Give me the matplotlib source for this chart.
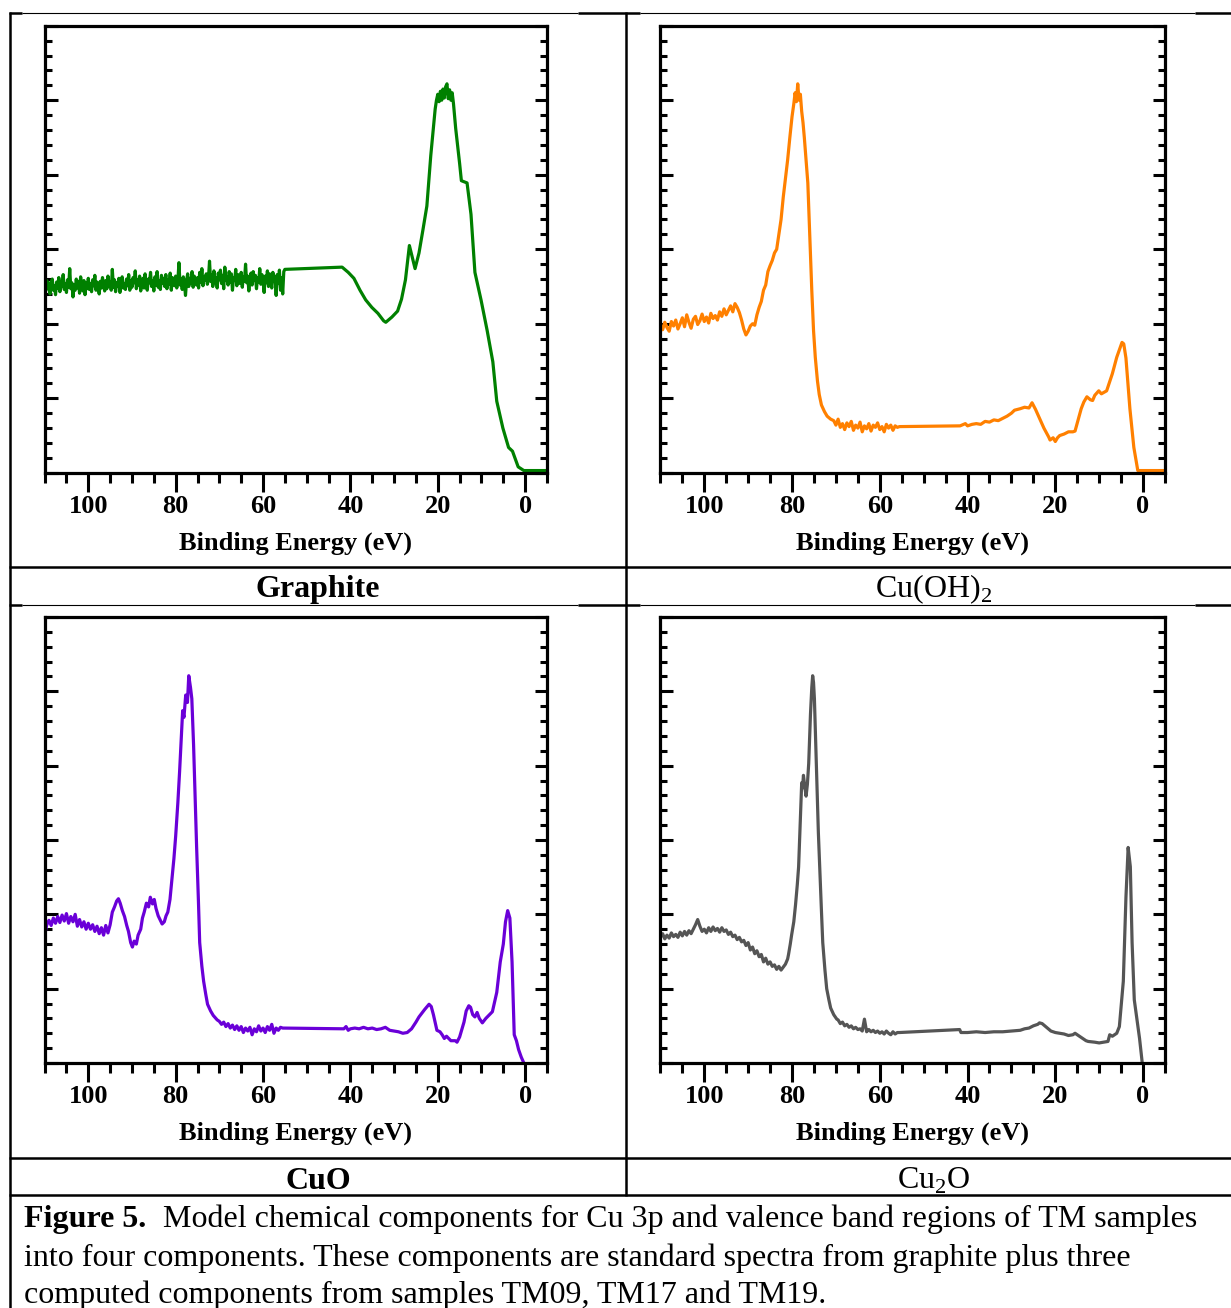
import numpy as np
import matplotlib
matplotlib.use("Agg")
import matplotlib.pyplot as plt
from matplotlib.ticker import MultipleLocator

plt.rcParams['font.family'] = ['Liberation Serif', 'DejaVu Serif']
plt.rcParams['mathtext.fontset'] = 'custom'
plt.rcParams['mathtext.rm'] = 'Liberation Serif'

# ---------------- data ----------------
# Graphite
gr_noise_x = np.arange(110, 55.1, -0.25)
gr_noise_y = [2.52, 2.44, 2.58, 2.47, 2.55, 2.40, 2.53, 2.60, 2.45, 2.51,
              2.39, 2.56, 2.48, 2.62, 2.43, 2.57, 2.50, 2.66, 2.46, 2.54,
              2.42, 2.59, 2.49, 2.74, 2.47, 2.55, 2.36, 2.52, 2.45, 2.60,
              2.48, 2.57, 2.41, 2.63, 2.50, 2.44, 2.58, 2.39, 2.55, 2.47,
              2.61, 2.46, 2.54, 2.43, 2.59, 2.51, 2.65, 2.45, 2.56, 2.49,
              2.40, 2.57, 2.48, 2.62, 2.52, 2.44, 2.58, 2.47, 2.64, 2.50,
              2.56, 2.45, 2.73, 2.49, 2.59, 2.43, 2.55, 2.50, 2.61, 2.42,
              2.57, 2.63, 2.48, 2.54, 2.46, 2.60, 2.51, 2.66, 2.45, 2.58,
              2.49, 2.62, 2.55, 2.71, 2.47, 2.59, 2.52, 2.64, 2.44, 2.57,
              2.61, 2.48, 2.67, 2.53, 2.45, 2.60, 2.55, 2.69, 2.50, 2.58,
              2.44, 2.63, 2.52, 2.70, 2.49, 2.58, 2.46, 2.65, 2.54, 2.61,
              2.50, 2.66, 2.47, 2.59, 2.53, 2.68, 2.45, 2.62, 2.56, 2.51,
              2.64, 2.48, 2.57, 2.82, 2.52, 2.60, 2.46, 2.63, 2.55, 2.38,
              2.58, 2.67, 2.50, 2.61, 2.54, 2.70, 2.49, 2.64, 2.57, 2.52,
              2.62, 2.48, 2.69, 2.56, 2.74, 2.51, 2.63, 2.58, 2.67, 2.53,
              2.60, 2.84, 2.57, 2.66, 2.50, 2.71, 2.55, 2.62, 2.48, 2.68,
              2.59, 2.72, 2.54, 2.65, 2.47, 2.76, 2.58, 2.63, 2.52, 2.70,
              2.56, 2.67, 2.45, 2.62, 2.58, 2.73, 2.51, 2.66, 2.60, 2.54,
              2.69, 2.49, 2.63, 2.57, 2.80, 2.55, 2.64, 2.44, 2.61, 2.68,
              2.52, 2.70, 2.58, 2.65, 2.47, 2.62, 2.56, 2.74, 2.53, 2.66,
              2.60, 2.42, 2.64, 2.55, 2.71, 2.50, 2.67, 2.58, 2.48, 2.69,
              2.57, 2.63, 2.38, 2.66, 2.54, 2.72, 2.45, 2.62, 2.40, 2.70]
gr_x = [55.0, 41.9, 40.5, 39.2, 37.8, 36.5, 35.1, 33.7, 32.4, 31.9, 30.5, 29.2,
        28.3, 27.4, 26.5, 25.2, 24.3, 23.4, 22.5, 21.6, 20.6, 20.3, 20.0, 19.7,
        19.4, 19.1, 18.8, 18.5, 18.2, 17.9, 17.6, 17.3, 17.0, 16.7, 16.4, 15.9,
        15.0, 14.6, 13.3, 12.4, 11.5, 10.1, 8.7, 7.4, 6.5, 5.1, 3.8, 2.9, 1.6,
        0.3, -5.0]
gr_y = [2.73, 2.76, 2.69, 2.61, 2.45, 2.32, 2.22, 2.14, 2.04, 2.02, 2.09, 2.17,
        2.33, 2.59, 3.05, 2.74, 2.95, 3.26, 3.58, 4.26, 4.88, 5.00, 5.08, 4.98,
        5.12, 5.00, 5.15, 5.03, 5.18, 5.22, 5.02, 5.14, 5.00, 5.10, 4.95, 4.62,
        4.15, 3.92, 3.89, 3.47, 2.69, 2.32, 1.91, 1.49, 0.96, 0.60, 0.34, 0.29,
        0.08, 0.03, 0.03]

# Cu(OH)2
oh_noise1_x = np.arange(110, 90.4, -0.5)
oh_noise1_y = [1.98, 1.92, 2.02, 1.95, 1.90, 2.03, 1.97, 2.05, 1.93, 2.00,
               2.08, 1.96, 2.12, 2.02, 1.94, 2.06, 2.10, 1.99, 2.04, 2.13,
               2.03, 2.09, 2.01, 2.14, 2.07, 2.11, 2.05, 2.16, 2.10, 2.20,
               2.12, 2.18, 2.24, 2.16, 2.27, 2.22, 2.15, 2.05, 1.93, 1.85]
oh_peak_x = [90.0, 89.5, 89.0, 88.5, 88.0, 87.5, 87.0, 86.5, 86.0, 85.5, 85.0,
             84.5, 84.0, 83.5, 83.0, 82.5, 82.0, 81.5, 81.0, 80.5, 80.0, 79.6,
             79.3, 79.0, 78.7, 78.4, 78.1, 77.8, 77.5, 77.2, 76.8, 76.4, 76.1,
             75.8, 75.5, 75.1, 74.7, 74.2, 73.8, 73.3, 72.6, 72.0, 71.2]
oh_peak_y = [1.90, 1.97, 2.00, 1.98, 2.12, 2.22, 2.30, 2.45, 2.52, 2.70, 2.78,
             2.85, 2.95, 3.00, 3.20, 3.40, 3.70, 3.95, 4.20, 4.50, 4.78, 4.95,
             5.10, 4.98, 5.22, 5.00, 5.08, 4.85, 4.70, 4.50, 4.20, 3.89, 3.40,
             2.95, 2.45, 1.91, 1.55, 1.23, 1.05, 0.91, 0.82, 0.76, 0.72]
oh_noise2_x = np.arange(70.5, 55.9, -0.5)
oh_noise2_y = [0.70, 0.64, 0.72, 0.61, 0.66, 0.58, 0.67, 0.62, 0.69, 0.57,
               0.64, 0.60, 0.68, 0.55, 0.63, 0.59, 0.66, 0.56, 0.64, 0.61,
               0.67, 0.58, 0.62, 0.55, 0.65, 0.60, 0.64, 0.57, 0.63, 0.61]
oh_x = [55.5, 41.7, 40.5, 40.0, 39.0, 38.0, 37.0, 36.0, 35.0, 34.0, 33.0, 32.0,
        31.0, 30.0, 29.3, 28.0, 27.0, 26.0, 25.3, 24.5, 23.5, 22.6, 21.5, 21.2,
        20.5, 20.0, 19.5, 19.0, 18.0, 17.0, 16.0, 15.5, 14.1, 13.5, 12.8, 12.0,
        11.5, 11.0, 10.1, 9.5, 8.3, 7.0, 6.0, 4.8, 4.4, 3.9, 3.0, 2.1, 1.2, -5.0]
oh_y = [0.62, 0.63, 0.66, 0.63, 0.65, 0.66, 0.65, 0.69, 0.68, 0.71, 0.70, 0.73,
        0.76, 0.80, 0.84, 0.86, 0.88, 0.87, 0.94, 0.85, 0.72, 0.60, 0.48, 0.44,
        0.47, 0.42, 0.47, 0.50, 0.52, 0.55, 0.55, 0.56, 0.86, 0.95, 1.02, 0.98,
        0.97, 1.04, 1.10, 1.06, 1.10, 1.33, 1.55, 1.75, 1.73, 1.54, 0.86, 0.34,
        0.03, 0.03]

# CuO
cuo_noise1_x = np.arange(110, 94.9, -0.5)
cuo_noise1_y = [1.72, 1.86, 1.92, 1.85, 1.95, 1.88, 1.97, 1.89, 1.99, 1.91,
                2.01, 1.88, 1.97, 1.90, 2.00, 1.84, 1.93, 1.83, 1.90, 1.80,
                1.88, 1.80, 1.86, 1.77, 1.84, 1.74, 1.82, 1.72, 1.85, 1.75,
                1.86]
cuo_peak_x = [94.5, 94.0, 93.5, 93.1, 92.7, 92.2, 91.7, 91.2, 90.8, 90.3, 89.9,
              89.5, 89.0, 88.6, 88.0, 87.6, 87.2, 86.7, 86.2, 85.8, 85.3, 84.9,
              84.5, 84.0, 83.5, 83.1, 82.6, 82.2, 81.8, 81.3, 80.9, 80.4, 80.0,
              79.5, 79.1, 78.7, 78.4, 78.1, 77.7, 77.3, 77.0, 76.6, 76.3, 75.9,
              75.5, 75.2, 74.8, 74.5, 74.0, 73.6, 73.1, 72.7, 72.0, 71.4, 70.5]
cuo_peak_y = [2.03, 2.10, 2.18, 2.21, 2.15, 2.05, 1.97, 1.85, 1.77, 1.62, 1.56,
              1.64, 1.60, 1.72, 1.80, 1.95, 2.03, 2.15, 2.10, 2.23, 2.14, 2.20,
              2.08, 1.98, 1.92, 1.87, 1.90, 1.98, 2.03, 2.20, 2.44, 2.75, 3.05,
              3.50, 3.92, 4.40, 4.74, 4.65, 4.95, 4.85, 5.21, 5.05, 4.90, 4.28,
              3.50, 2.90, 2.20, 1.62, 1.30, 1.10, 0.92, 0.79, 0.70, 0.64, 0.58]
cuo_noise2_x = np.arange(70, 55.9, -0.5)
cuo_noise2_y = [0.56, 0.52, 0.55, 0.49, 0.53, 0.47, 0.51, 0.45, 0.50, 0.44,
                0.49, 0.41, 0.47, 0.43, 0.48, 0.38, 0.46, 0.42, 0.50, 0.43,
                0.47, 0.41, 0.49, 0.44, 0.52, 0.40, 0.47, 0.44, 0.48]
cuo_x = [55.5, 41.5, 41.0, 40.5, 40.0, 39.0, 38.0, 37.0, 36.0, 35.0, 34.0, 33.0,
         32.0, 31.0, 30.0, 29.0, 28.0, 27.0, 26.0, 25.0, 24.3, 23.0, 22.0, 21.5,
         21.0, 20.2, 19.5, 19.0, 18.5, 18.0, 17.0, 16.0, 15.6, 15.0, 14.0, 13.5,
         12.9, 12.5, 12.0, 11.5, 11.0, 10.5, 9.8, 9.0, 8.0, 7.5, 6.5, 5.7, 5.0,
         4.5, 4.0, 3.5, 3.0, 2.5, 2.0, 1.5, 0.9, 0.3]
cuo_y = [0.47, 0.46, 0.49, 0.44, 0.46, 0.47, 0.46, 0.48, 0.46, 0.47, 0.45, 0.46,
         0.48, 0.44, 0.43, 0.42, 0.40, 0.41, 0.46, 0.55, 0.62, 0.72, 0.79, 0.76,
         0.65, 0.44, 0.42, 0.38, 0.33, 0.36, 0.30, 0.30, 0.28, 0.35, 0.55, 0.70,
         0.77, 0.75, 0.65, 0.62, 0.68, 0.60, 0.54, 0.60, 0.66, 0.69, 0.95, 1.36,
         1.60, 1.90, 2.05, 1.95, 1.36, 0.38, 0.30, 0.18, 0.08, 0.00]

# Cu2O
c2o_noise1_x = np.arange(110, 81.9, -0.5)
c2o_noise1_y = [1.69, 1.74, 1.67, 1.72, 1.68, 1.75, 1.70, 1.73, 1.69, 1.76,
                1.71, 1.77, 1.72, 1.78, 1.74, 1.80, 1.86, 1.93, 1.84, 1.77,
                1.80, 1.75, 1.82, 1.77, 1.83, 1.78, 1.81, 1.76, 1.82, 1.77,
                1.79, 1.73, 1.76, 1.70, 1.72, 1.66, 1.69, 1.63, 1.65, 1.58,
                1.62, 1.52, 1.56, 1.47, 1.51, 1.43, 1.46, 1.36, 1.41, 1.33,
                1.36, 1.30, 1.32, 1.26, 1.30, 1.25, 1.29]
c2o_peak_x = [81.5, 81.0, 80.8, 80.4, 80.1, 79.6, 79.2, 78.8, 78.5, 78.1, 77.8,
              77.6, 77.4, 77.1, 76.8, 76.5, 76.2, 75.8, 75.5, 75.3, 75.1, 74.9,
              74.6, 74.3, 74.0, 73.7, 73.3, 73.0, 72.5, 72.1, 71.6, 71.2, 70.5,
              69.8]
c2o_peak_y = [1.33, 1.40, 1.46, 1.60, 1.72, 1.90, 2.13, 2.40, 2.64, 3.30, 3.77,
              3.70, 3.87, 3.72, 3.59, 3.75, 4.03, 4.69, 5.05, 5.21, 5.12, 4.90,
              4.30, 3.67, 3.10, 2.64, 2.05, 1.62, 1.25, 1.00, 0.85, 0.74, 0.65,
              0.59]
c2o_noise2_x = np.arange(69.5, 55.9, -0.5)
c2o_noise2_y = [0.58, 0.53, 0.55, 0.50, 0.52, 0.48, 0.50, 0.46, 0.48, 0.45,
                0.46, 0.43, 0.59, 0.42, 0.45, 0.42, 0.44, 0.41, 0.43, 0.40,
                0.42, 0.39, 0.43, 0.40, 0.38, 0.42, 0.39, 0.41]
c2o_x = [55.5, 41.8, 41.5, 40.0, 38.0, 36.0, 34.0, 32.0, 30.0, 28.0, 27.0, 26.0,
         25.0, 24.0, 23.6, 23.0, 22.0, 21.0, 20.0, 19.0, 18.0, 17.0, 16.0, 15.5,
         15.0, 14.0, 13.0, 12.5, 11.0, 10.0, 9.0, 8.0, 7.6, 7.0, 6.0, 5.4, 4.5,
         3.9, 3.4, 2.9, 2.5, 2.0, 1.4, 0.8, 0.24]
c2o_y = [0.41, 0.45, 0.41, 0.41, 0.42, 0.41, 0.42, 0.42, 0.43, 0.44, 0.46, 0.47,
         0.50, 0.52, 0.54, 0.53, 0.48, 0.43, 0.41, 0.40, 0.39, 0.37, 0.38, 0.40,
         0.38, 0.34, 0.30, 0.29, 0.28, 0.27, 0.28, 0.29, 0.38, 0.36, 0.40, 0.49,
         1.10, 2.23, 2.90, 2.64, 1.62, 0.85, 0.59, 0.33, 0.03]

series = [
    (np.concatenate([gr_noise_x, gr_x]), np.concatenate([gr_noise_y, gr_y]), '#008000'),
    (np.concatenate([oh_noise1_x, oh_peak_x, oh_noise2_x, oh_x]),
     np.concatenate([oh_noise1_y, oh_peak_y, oh_noise2_y, oh_y]), '#FF8000'),
    (np.concatenate([cuo_noise1_x, cuo_peak_x, cuo_noise2_x, cuo_x]),
     np.concatenate([cuo_noise1_y, cuo_peak_y, cuo_noise2_y, cuo_y]), '#6A00D8'),
    (np.concatenate([c2o_noise1_x, c2o_peak_x, c2o_noise2_x, c2o_x]),
     np.concatenate([c2o_noise1_y, c2o_peak_y, c2o_noise2_y, c2o_y]), '#555555'),
]
cell_labels = ['Graphite', 'Cu(OH)$_\\mathregular{2}$', 'CuO', 'Cu$_\\mathregular{2}$O']
label_bold = [True, False, True, False]
x_label = 'Binding Energy (eV)'
caption_bold = 'Figure 5.'
caption_lines = ['Model chemical components for Cu 3p and valence band regions of TM samples',
                 'into four components. These components are standard spectra from graphite plus three',
                 'computed components from samples TM09, TM17 and TM19.']

# ---------------- layout ----------------
W, H = 1231, 1308
fig = plt.figure(figsize=(W / 100, H / 100), dpi=100)
fig.patch.set_facecolor('white')

bg = fig.add_axes([0, 0, 1, 1])
bg.set_xlim(0, W)
bg.set_ylim(H, 0)
bg.axis('off')

THICK, THIN = 1.8, 0.8
# horizontal table lines
for yy in (12.5, 605):
    for (a, b, lw) in [(9, 22, THICK), (22, 578, THIN), (578, 640, THICK),
                       (640, 1195, THIN), (1195, 1231, THICK)]:
        bg.plot([a, b], [yy, yy], color='black', lw=lw, solid_capstyle='butt')
for yy in (567, 1157.5, 1194.5):
    bg.plot([9, 1231], [yy, yy], color='black', lw=THICK, solid_capstyle='butt')
bg.plot([9.5, 9.5], [11.5, H], color='black', lw=THICK, solid_capstyle='butt')
bg.plot([626, 626], [11.5, 1195.5], color='black', lw=THICK, solid_capstyle='butt')

boxes = [(44.6, 25.7, 547, 472.8), (660.4, 25.7, 1165, 472.8),
         (44.6, 617, 547, 1063), (660.4, 617, 1165, 1063)]
label_pos = [(318, 597), (934, 597), (318, 1189), (934, 1189)]
XLABEL_OFFSET = 76.5  # pixels from bottom spine to x-label baseline

for (x, y, col), (l, t, r, b), lab, bold, (lx, ly) in zip(series, boxes, cell_labels,
                                                          label_bold, label_pos):
    ax = fig.add_axes([l / W, 1 - b / H, (r - l) / W, (b - t) / H])
    ax.plot(x, y, color=col, lw=2.3, solid_joinstyle='round')
    ax.set_xlim(110, -5)
    ax.set_ylim(0, 6)
    for s in ax.spines.values():
        s.set_linewidth(2.3)
    ax.xaxis.set_major_locator(MultipleLocator(20))
    ax.xaxis.set_minor_locator(MultipleLocator(5))
    ax.yaxis.set_major_locator(MultipleLocator(1))
    ax.yaxis.set_minor_locator(MultipleLocator(0.2))
    ax.tick_params(axis='x', which='both', direction='out', bottom=True, top=False,
                   width=2.2)
    ax.tick_params(axis='x', which='major', length=14, labelsize=19, pad=2)
    ax.tick_params(axis='x', which='minor', length=7.5)
    ax.tick_params(axis='y', which='both', direction='in', left=True, right=True,
                   labelleft=False, width=2.2)
    ax.tick_params(axis='y', which='major', length=9)
    ax.tick_params(axis='y', which='minor', length=5)
    ax.xaxis.set_major_formatter(plt.FuncFormatter(lambda v, p: f"{v:.0f}"))
    for tl in ax.get_xticklabels():
        tl.set_fontweight('bold')
    ax.set_xlabel(x_label, fontsize=19, fontweight='bold')
    ax.xaxis.label.set_va('baseline')
    ax.xaxis.set_label_coords(0.5, -XLABEL_OFFSET / (b - t))
    bg.text(lx, ly, lab, ha='center', va='baseline', fontsize=23,
            fontweight='bold' if bold else 'normal')

# caption
bg.text(24, 1227, caption_bold, ha='left', va='baseline', fontsize=23, fontweight='bold')
bg.text(163, 1227, caption_lines[0], ha='left', va='baseline', fontsize=23)
bg.text(24, 1266, caption_lines[1], ha='left', va='baseline', fontsize=23)
bg.text(24, 1303, caption_lines[2], ha='left', va='baseline', fontsize=23)

fig.savefig('out.png', dpi=100, facecolor='white')
